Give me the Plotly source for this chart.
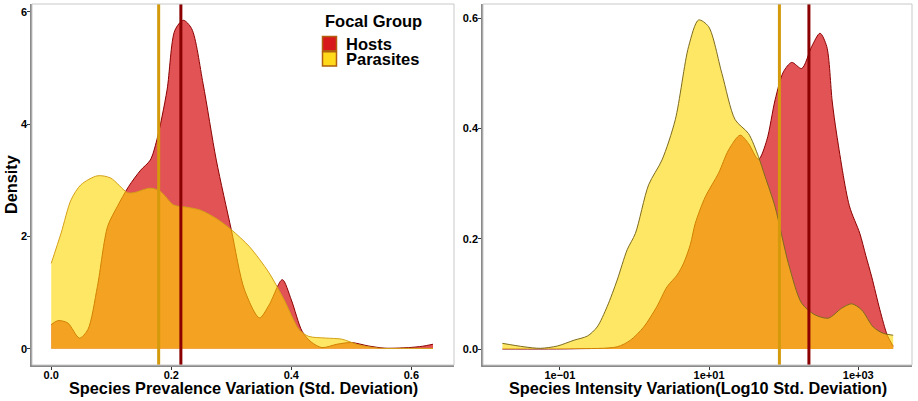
import numpy as np
import plotly.graph_objects as go

# ---------------------------------------------------------------------------
# Density curves (left: prevalence SD, right: log10 intensity SD)
# ---------------------------------------------------------------------------
host_prev_x = [0.0, 0.011, 0.0275, 0.047, 0.061, 0.077, 0.094, 0.11, 0.129, 0.149,
               0.165, 0.176, 0.193, 0.206, 0.22, 0.234, 0.253, 0.275, 0.300, 0.322,
               0.347, 0.363, 0.385, 0.40, 0.418, 0.433, 0.451, 0.476, 0.50, 0.528,
               0.556, 0.595, 0.619, 0.636]
host_prev_y = [0.43, 0.50, 0.46, 0.19, 0.34, 1.11, 2.18, 2.53, 2.89, 3.18,
               3.36, 3.72, 4.61, 5.67, 5.85, 5.70, 4.72, 3.36, 2.12, 1.05,
               0.55, 0.78, 1.23, 0.87, 0.31, 0.12, 0.02, 0.08, 0.11, 0.05,
               0.01, 0.02, 0.045, 0.08]

para_prev_x = [0.0, 0.0165, 0.033, 0.0495, 0.077, 0.099, 0.127, 0.138, 0.165, 0.182,
               0.204, 0.226, 0.248, 0.275, 0.300, 0.330, 0.363, 0.388, 0.413, 0.429,
               0.457, 0.484, 0.512, 0.545, 0.595, 0.636]
para_prev_y = [1.52, 2.06, 2.65, 2.92, 3.08, 3.04, 2.78, 2.78, 2.86, 2.80,
               2.56, 2.52, 2.47, 2.32, 2.12, 1.82, 1.35, 0.87, 0.34, 0.22,
               0.19, 0.17, 0.07, 0.01, 0.007, 0.005]

host_int_log = [-1.77, -0.8, -0.232, -0.054, 0.124, 0.30, 0.437, 0.57, 0.66, 0.75,
                0.815, 0.949, 1.127, 1.261, 1.417, 1.528, 1.662, 1.774, 1.885, 1.997,
                2.108, 2.242, 2.376, 2.487, 2.577, 2.65, 2.71, 2.88, 3.02, 3.10,
                3.18, 3.29, 3.389, 3.468]
host_int_y = [0.0, 0.0005, 0.004, 0.016, 0.040, 0.077, 0.113, 0.134, 0.156, 0.19,
              0.228, 0.276, 0.319, 0.361, 0.388, 0.373, 0.344, 0.379, 0.452, 0.503,
              0.52, 0.509, 0.549, 0.573, 0.549, 0.45, 0.39, 0.26, 0.21, 0.17,
              0.131, 0.071, 0.025, 0.005]

para_int_log = [-1.77, -1.48, -1.26, -1.035, -0.81, -0.63, -0.5, -0.366, -0.232, -0.098,
                0.013, 0.19, 0.369, 0.547, 0.726, 0.86, 0.993, 1.172, 1.35, 1.528,
                1.662, 1.751, 1.885, 2.064, 2.242, 2.42, 2.599, 2.777, 2.912, 3.045,
                3.20, 3.334, 3.468]
para_int_y = [0.0103, 0.004, 0.0013, 0.0054, 0.016, 0.0236, 0.040, 0.077, 0.125, 0.18,
              0.21, 0.298, 0.343, 0.416, 0.549, 0.597, 0.585, 0.50, 0.416, 0.391,
              0.349, 0.313, 0.258, 0.155, 0.083, 0.062, 0.056, 0.074, 0.082, 0.071,
              0.040, 0.0285, 0.025]

# group means (vertical lines)
mean_prev = {"Hosts": 0.216, "Parasites": 0.179}
mean_int = {"Hosts": 218, "Parasites": 87.7}

int_ticks = [0.1, 10, 1000]
int_ticktext = ["1e\u221201", "1e+01", "1e+03"]

groups = ["Hosts", "Parasites"]
key_colors = ["#D7191C", "#FFD91A"]

FILL = {"Hosts": "rgba(215,25,28,0.75)", "Parasites": "rgba(255,215,0,0.6)"}
VLINE = {"Hosts": "#8B0000", "Parasites": "#D49A0C"}
FONT = "Liberation Sans, Arial, sans-serif"
W, H = 918, 401

fig = go.Figure()


def density(x, y, name, line_col, xa, ya):
    fig.add_trace(go.Scatter(
        x=x, y=y, mode="lines", fill="tozeroy", fillcolor=FILL[name],
        line=dict(color=line_col, width=1, shape="spline", smoothing=0.8),
        xaxis=xa, yaxis=ya, showlegend=False, hoverinfo="skip"))


density(host_prev_x, host_prev_y, "Hosts", "#8B0000", "x", "y")
density(para_prev_x, para_prev_y, "Parasites", "#D4A017", "x", "y")
density(10 ** np.array(host_int_log), host_int_y, "Hosts", "#8B0000", "x2", "y2")
density(10 ** np.array(para_int_log), para_int_y, "Parasites", "#7D6B1E", "x2", "y2")

# vertical mean lines spanning the whole panel
Y1 = [-0.29, 6.14]
Y2 = [-0.029, 0.626]
for name in ("Parasites", "Hosts"):
    fig.add_trace(go.Scatter(x=[mean_prev[name]] * 2, y=Y1, mode="lines",
                             line=dict(color=VLINE[name], width=3),
                             xaxis="x", yaxis="y", showlegend=False, hoverinfo="skip"))
    fig.add_trace(go.Scatter(x=[mean_int[name]] * 2, y=Y2, mode="lines",
                             line=dict(color=VLINE[name], width=3),
                             xaxis="x2", yaxis="y2", showlegend=False, hoverinfo="skip"))

ax_common = dict(showgrid=False, zeroline=False, ticks="outside", ticklen=3,
                 tickcolor="#333333", showline=True, linecolor="#8A8A8A", linewidth=1.5,
                 tickfont=dict(family=FONT, size=11, color="black", weight="bold"))
bold = lambda s: dict(family=FONT, size=s, color="black", weight="bold")

# hand-built legend (ggplot style: tight rows, boxed keys)
shapes = [
    dict(type="rect", xref="x domain", yref="y domain", x0=0, x1=1, y0=0, y1=1,
         line=dict(color="#C8C8C8", width=1)),
    dict(type="rect", xref="x2 domain", yref="y2 domain", x0=0, x1=1, y0=0, y1=1,
         line=dict(color="#C8C8C8", width=1)),
]
annotations = [
    dict(text="Focal Group", x=323 / W, y=1 - 21 / H, xanchor="left", yanchor="middle",
         font=bold(16.5)),
]
for i, (name, col) in enumerate(zip(groups, key_colors)):
    top = 36.5 + i * 15.3
    shapes.append(dict(type="rect", xref="paper", yref="paper",
                       x0=322.5 / W, x1=336.5 / W, y0=1 - (top + 14.3) / H, y1=1 - top / H,
                       fillcolor=col, line=dict(color="#B0600F", width=1.5)))
    annotations.append(dict(text=name, x=344 / W, y=1 - (top + 7.5) / H,
                            xanchor="left", yanchor="middle", font=bold(16.5)))

annotations += [
    dict(text="Species Prevalence Variation (Std. Deviation)", x=243 / W, y=1 - 388 / H,
         xanchor="center", yanchor="middle", font=bold(16.3)),
    dict(text="Species Intensity Variation(Log10 Std. Deviation)", x=698 / W, y=1 - 388 / H,
         xanchor="center", yanchor="middle", font=bold(16.3)),
    dict(text="Density", x=11 / W, y=1 - 185 / H, xanchor="center", yanchor="middle",
         textangle=-90, font=bold(16.3)),
]
for a in annotations:
    a.update(xref="paper", yref="paper", showarrow=False)

fig.update_layout(
    width=W, height=H,
    margin=dict(l=0, r=0, t=0, b=0),
    paper_bgcolor="white", plot_bgcolor="white",
    font=dict(family=FONT),
    showlegend=False,
    xaxis=dict(domain=[32 / W, 454 / W], range=[-0.032, 0.671],
               tickvals=[0.0, 0.2, 0.4, 0.6], tickformat=".1f", anchor="y",
               ticklabelstandoff=-4, **ax_common),
    yaxis=dict(domain=[1 - 365 / H, 1 - 4 / H], range=Y1, tickvals=[0, 2, 4, 6],
               anchor="x", ticklabelstandoff=-2, **ax_common),
    xaxis2=dict(domain=[483 / W, 912 / W], type="log", range=[-2.03, 3.72],
                tickvals=int_ticks, ticktext=int_ticktext, anchor="y2",
                ticklabelstandoff=-4, **ax_common),
    yaxis2=dict(domain=[1 - 365 / H, 1 - 4 / H], range=Y2, tickvals=[0, 0.2, 0.4, 0.6],
                tickformat=".1f", anchor="x2", ticklabelstandoff=-2, **ax_common),
    shapes=shapes,
    annotations=annotations,
)

fig.write_html("out.html", config={"displayModeBar": False},
               post_script="document.body.style.margin='0';")
